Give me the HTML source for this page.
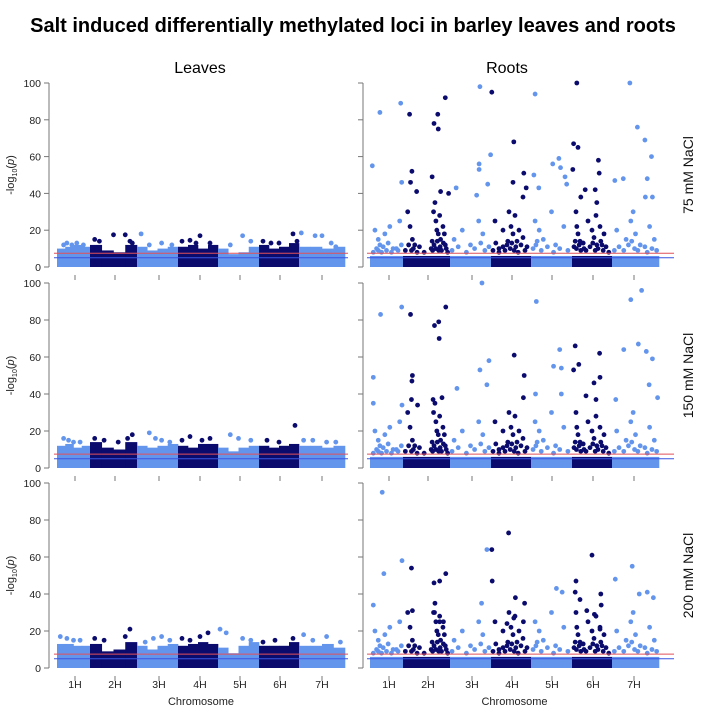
<!DOCTYPE html>
<html><head><meta charset="utf-8"><style>
body{margin:0;background:#fff;}
svg{display:block;font-family:"Liberation Sans",Arial,sans-serif;}
</style></head><body>
<svg id="chart" width="706" height="709" viewBox="0 0 706 709">
<text x="353" y="32" text-anchor="middle" font-size="20" font-weight="bold">Salt induced differentially methylated loci in barley leaves and roots</text>
<text x="200" y="73" text-anchor="middle" font-size="16">Leaves</text>
<text x="507" y="73" text-anchor="middle" font-size="16">Roots</text>
<g id="plots"></g>
</svg>
<script>
// ---- data ----
const chromosomes = ["1H","2H","3H","4H","5H","6H","7H"];
const yTicks = [0,20,40,60,80,100];
const conditions = ["75 mM NaCl","150 mM NaCl","200 mM NaCl"];
const redThreshold = 7.5;
const blueThreshold = 5;
// leaves: dense band tops (4 per chromosome) and sparse peaks [position, value]
const leafBand75 = [10,11,12,11, 12,9,8,12, 11,9,10,11, 11,12,10,12, 10,7,8,11, 12,10,11,13, 11,11,10,11];
const leafBand150 = [12,13,11,12, 14,11,10,14, 12,11,12,13, 12,11,13,13, 11,9,11,12, 12,11,12,13, 12,12,11,12];
const leafBand200 = [13,13,12,12, 13,9,10,14, 12,10,12,13, 12,13,14,13, 11,8,12,14, 12,12,12,14, 12,12,13,11];
const leafPeaks75 = [[0.2,12],[0.3,13],[0.45,12],[0.6,13],[0.8,12],[1.1,15],[1.2,14],[1.5,17.5],[1.75,17.5],[1.85,14],[1.9,13],[2.1,18],[2.3,12],[2.6,13],[2.85,12],[3.1,14],[3.3,14.5],[3.45,13],[3.55,17],[3.8,13],[4.3,12],[4.6,17],[4.8,14],[5.1,14],[5.3,13],[5.5,13],[5.85,18],[5.95,14],[6.05,18.5],[6.35,17],[6.5,17],[6.7,13],[6.8,11]];
const leafPeaks150 = [[0.2,16],[0.35,15],[0.5,14],[0.7,14],[1.1,16],[1.3,15],[1.6,14],[1.8,16],[1.9,18],[2.3,19],[2.45,16],[2.6,15],[2.8,14],[3.1,15],[3.3,17],[3.6,15],[3.8,16],[4.3,18],[4.5,16],[4.8,15],[5.2,15],[5.5,14],[5.9,23],[6.1,15],[6.3,15],[6.6,14],[6.8,14]];
const leafPeaks200 = [[0.1,17],[0.3,16],[0.5,15],[0.7,15],[1.1,16],[1.3,15],[1.75,17],[1.85,21],[2.2,14],[2.4,16],[2.6,17],[2.8,15],[3.1,16],[3.3,15],[3.55,17],[3.75,19],[4.05,21],[4.2,19],[4.6,16],[4.8,15],[5.1,14],[5.4,15],[5.85,16],[6.1,18],[6.3,15],[6.6,17],[6.9,14]];
// roots: shared mid-level scatter and condition-specific high peaks [position, value]
const rootCloud = [[0.15,20],[0.25,15],[0.3,12],[0.45,18],[0.6,22],[0.8,10],[0.9,25],[1.1,30],[1.15,22],[1.2,15],[1.25,12],[1.65,30],[1.7,25],[1.72,20],[1.75,18],[1.8,15],[1.85,22],[1.9,12],[1.68,35],[1.78,28],[1.62,14],[1.88,18],[2.1,15],[2.3,20],[2.5,12],[2.7,25],[2.8,18],[3.1,25],[3.3,20],[3.45,30],[3.5,22],[3.55,18],[3.6,28],[3.65,14],[3.7,20],[3.4,12],[3.8,16],[3.2,10],[4.1,25],[4.2,20],[4.3,15],[4.5,30],[4.6,12],[4.8,22],[5.1,30],[5.12,22],[5.15,18],[5.2,14],[5.4,25],[5.5,20],[5.55,16],[5.6,28],[5.7,22],[5.75,12],[5.8,18],[5.3,10],[6.1,20],[6.3,15],[6.4,25],[6.45,30],[6.5,18],[6.6,12],[6.8,22],[6.9,15]];
const rootLow = [[0.1,8],[0.2,10],[0.25,9],[0.35,8],[0.4,11],[0.5,9],[0.55,13],[0.65,8],[0.7,10],[0.85,9],[0.95,12],[1.05,9],[1.12,12],[1.18,9],[1.22,10],[1.3,8],[1.35,11],[1.45,8],[1.6,10],[1.63,9],[1.66,12],[1.7,10],[1.73,14],[1.76,9],[1.79,11],[1.82,9],[1.86,13],[1.92,10],[1.95,8],[2.05,9],[2.2,11],[2.4,8],[2.6,10],[2.75,13],[2.85,9],[2.95,11],[3.05,9],[3.12,13],[3.2,8],[3.3,11],[3.35,9],[3.42,14],[3.48,10],[3.52,13],[3.58,9],[3.62,11],[3.68,8],[3.75,12],[3.85,9],[3.9,11],[4.05,10],[4.12,12],[4.15,14],[4.25,9],[4.4,11],[4.55,8],[4.7,10],[4.9,9],[5.05,11],[5.08,14],[5.11,10],[5.18,12],[5.22,9],[5.28,13],[5.35,9],[5.45,11],[5.52,13],[5.58,9],[5.62,12],[5.65,10],[5.72,14],[5.78,9],[5.85,11],[5.92,8],[6.05,9],[6.15,11],[6.25,9],[6.35,12],[6.42,14],[6.48,10],[6.55,9],[6.7,11],[6.75,8],[6.85,10],[6.95,9]];
const rootPeaks75 = [[0.3,84],[0.93,89],[1.14,83],[1.66,78],[1.74,83],[1.75,75],[1.9,92],[2.73,98],[3.02,95],[4.1,94],[5.12,100],[6.38,100],[3.57,68],[5.04,67],[5.15,65],[6.54,76],[6.7,69],[6.84,60],[0.07,55],[2.99,61],[2.71,56],[2.71,53],[1.19,52],[1.16,46],[1.62,49],[1.29,41],[1.8,41],[1.97,40],[0.96,46],[3.82,51],[3.55,46],[3.88,43],[3.8,38],[4.53,56],[4.68,59],[4.72,54],[4.83,49],[4.87,45],[4.07,50],[4.19,43],[5.02,53],[5.66,58],[5.68,51],[5.33,42],[5.58,42],[5.22,38],[5.62,35],[6.06,47],[6.24,48],[6.75,48],[6.86,38],[6.71,38],[2.15,43],[2.65,39],[2.92,45]];
const rootPeaks150 = [[0.32,83],[0.96,87],[1.16,83],[1.67,77],[1.76,79],[1.77,70],[1.91,87],[2.78,100],[4.13,90],[6.4,91],[6.63,96],[0.1,49],[1.2,50],[1.19,47],[3.58,61],[3.83,50],[2.95,58],[2.73,53],[2.9,45],[2.17,43],[4.7,64],[4.55,55],[4.74,54],[5.08,66],[5.17,56],[5.04,53],[5.69,62],[5.7,49],[5.55,46],[6.25,64],[6.56,67],[6.73,63],[6.86,59],[6.79,45],[6.97,38],[0.1,35],[0.97,34],[1.18,37],[1.31,34],[1.64,37],[1.83,38],[4.11,40],[4.74,40],[5.35,39],[5.6,37],[6.08,37],[3.81,38]];
const rootPeaks200 = [[0.37,95],[1.18,54],[0.42,51],[1.66,46],[1.78,47],[1.91,51],[3.03,47],[3.61,38],[3.84,35],[4.62,43],[4.76,41],[5.1,47],[5.08,41],[5.2,37],[5.72,40],[5.73,34],[6.07,48],[6.43,55],[6.58,40],[6.75,41],[6.88,38],[0.1,34],[2.77,35],[1.2,31],[1.67,30],[1.78,25],[1.86,25],[3.57,27],[3.81,25],[5.37,31],[5.56,29],[5.7,21],[3.4,24],[2.9,64],[3.02,64],[3.44,73],[0.97,58],[5.5,61]];

// ---- layout ----
const NS = "http://www.w3.org/2000/svg";
const plots = document.getElementById("plots");
const LIGHT = "#6495ed", DARK = "#0b0b6e";
const sides = {
  leaves:{axisX:49, bounds:[57,90,137,178,218,259,299,345], ticks:[75,115,159,200,240,280,322], labels:true},
  roots:{axisX:363, bounds:[370,403,450,491,531,572,612,659], ticks:[389,428,472,512,552,593,634], labels:false}
};
const rows = [{y0:267,y100:83},{y0:468,y100:283},{y0:668,y100:483}];
function el(tag, attrs, parent){const e=document.createElementNS(NS,tag);for(const k in attrs)e.setAttribute(k,attrs[k]);(parent||plots).appendChild(e);return e;}
function xScale(side,pos){const b=sides[side].bounds;const i=Math.min(6,Math.floor(pos));const f=pos-i;return b[i]+f*(b[i+1]-b[i]);}
function yScale(r,v){const R=rows[r];return R.y0-(R.y0-R.y100)*v/100;}
function colorFor(pos){return Math.floor(pos)%2===1?DARK:LIGHT;}

function drawPanel(side,r,band,bandFlat,peaksList){
  const g=el("g",{});
  
  
  const S=sides[side];
  const ax=el("line",{x1:S.axisX,x2:S.axisX,y1:yScale(r,100),y2:yScale(r,0),stroke:"#777","stroke-width":1},g);
  
  
  yTicks.forEach(t=>{
    const tk=el("line",{x1:S.axisX-5,x2:S.axisX,y1:yScale(r,t),y2:yScale(r,t),stroke:"#777"},g);
    
    
    if(S.labels){
      const tl=el("text",{x:S.axisX-8,y:yScale(r,t)+4,"text-anchor":"end","font-size":"10.5",fill:"#222"},g);
      tl.textContent=t;
      
      
    }
  });
  const seg = band ? band.length/7 : 1;
  chromosomes.forEach((c,i)=>{
    for(let h=0;h<seg;h++){
      const top = band ? band[i*seg+h] : bandFlat;
      const x1=xScale(side,i+h/seg), x2=xScale(side,i+(h+1)/seg-1e-6);
      const rc=el("rect",{x:x1,y:yScale(r,top),width:x2-x1+0.3,height:yScale(r,0)-yScale(r,top),fill:i%2?DARK:LIGHT},g);
      
      
    }
  });
  peaksList.forEach(pk=>{
    pk.forEach(p=>{
      const d=el("circle",{cx:xScale(side,p[0]),cy:yScale(r,p[1]),r:2.4,fill:colorFor(p[0])},g);
      
      
    });
  });
  const xa=S.bounds[0]-3, xb=S.bounds[7]+(side==="roots"?15:3);
  const rl=el("line",{x1:xa,x2:xb,y1:yScale(r,redThreshold),y2:yScale(r,redThreshold),stroke:"#e0505a","stroke-width":1},g);
  
  
  const bl=el("line",{x1:xa,x2:xb,y1:yScale(r,blueThreshold),y2:yScale(r,blueThreshold),stroke:"#3a55e0","stroke-width":1},g);
  
  
  const cy=(yScale(r,0)+yScale(r,100))/2;
  if(S.labels){
    const yt=el("text",{x:0,y:0,transform:"translate(14,"+cy+") rotate(-90)","text-anchor":"middle","font-size":"11",fill:"#222"},g);
    yt.innerHTML='-log<tspan font-size="7" dy="3">10</tspan><tspan dy="-3">(</tspan><tspan font-style="italic">p</tspan>)';
    
    
  } else {
    const ct=el("text",{x:0,y:0,transform:"translate(693,"+cy+") rotate(-90)","text-anchor":"middle","font-size":"14",fill:"#111"},g);
    ct.textContent=conditions[r];
    
    
  }
  S.ticks.forEach((tx,i)=>{
    const xt=el("line",{x1:tx,x2:tx,y1:yScale(r,0)+8,y2:yScale(r,0)+13,stroke:"#777"},g);
    
    
    if(r===2){
      const lbl=el("text",{x:tx,y:688,"text-anchor":"middle","font-size":"10.5",fill:"#222"},g);
      lbl.textContent=chromosomes[i];
      
      
    }
  });
  if(r===2){
    const xt=el("text",{x:(S.bounds[0]+S.bounds[7])/2,y:705,"text-anchor":"middle","font-size":"11",fill:"#222"},g);
    xt.textContent="Chromosome";
    
    
  }
}
drawPanel("leaves",0,leafBand75,null,[leafPeaks75]);
drawPanel("leaves",1,leafBand150,null,[leafPeaks150]);
drawPanel("leaves",2,leafBand200,null,[leafPeaks200]);
drawPanel("roots",0,null,6,[rootLow,rootCloud,rootPeaks75]);
drawPanel("roots",1,null,6,[rootLow,rootCloud,rootPeaks150]);
drawPanel("roots",2,null,6,[rootLow,rootCloud,rootPeaks200]);
</script>
</body></html>
